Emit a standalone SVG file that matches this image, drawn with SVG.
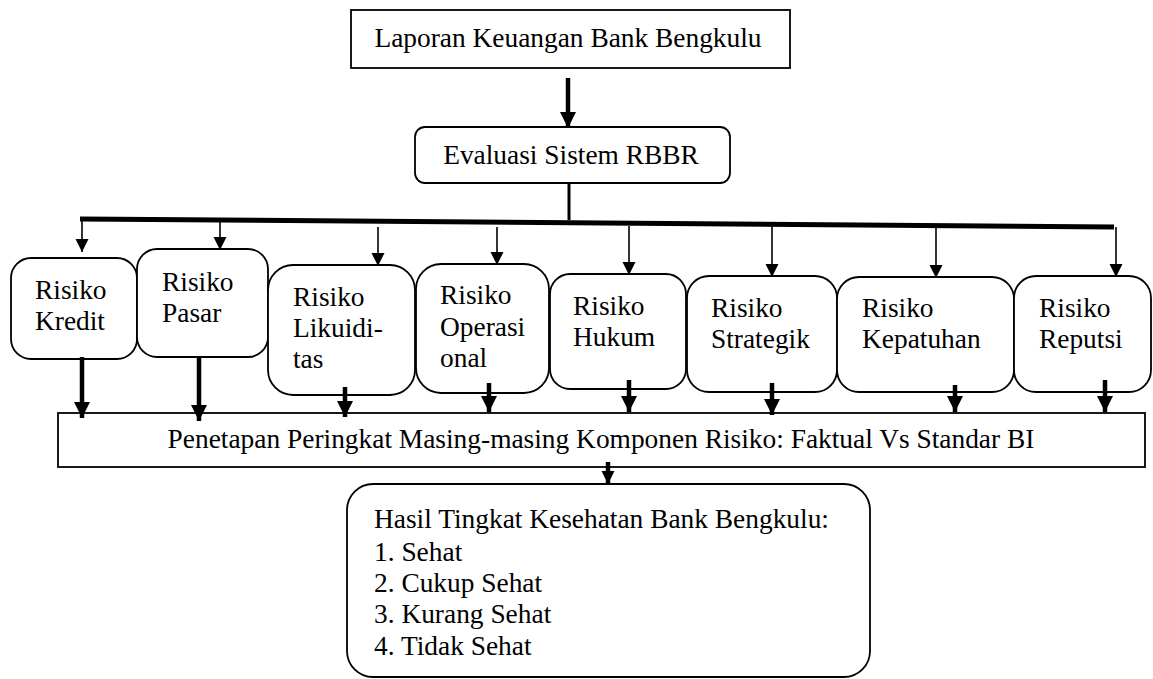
<svg xmlns="http://www.w3.org/2000/svg" width="1153" height="679" viewBox="0 0 1153 679">
<style>
.box{fill:#fff;stroke:#000;stroke-width:1.8}
.t{font-family:"Liberation Serif","Times New Roman",serif;font-size:27.4px;fill:#000}
.thin{stroke:#000;stroke-width:1.6;fill:none}
.thick{stroke:#000;stroke-width:4.5;fill:none}
</style>
<defs>
<marker id="ah" markerUnits="userSpaceOnUse" markerWidth="14" markerHeight="14" refX="13" refY="6.5" orient="auto" viewBox="0 0 14 13">
<path d="M0,0 L13,6.5 L0,13 z" fill="#000"/>
</marker>
<marker id="ahb" markerUnits="userSpaceOnUse" markerWidth="17" markerHeight="16" refX="16" refY="8" orient="auto" viewBox="0 0 17 16">
<path d="M0,0 L16,8 L0,16 z" fill="#000"/>
</marker>
</defs>

<g id="laporan">
<rect class="box" x="351" y="10" width="439" height="58"/>
<text class="t" x="568" y="47" text-anchor="middle">Laporan Keuangan Bank Bengkulu</text>
</g>

<g id="evaluasi">
<rect class="box" x="415" y="127" width="315" height="56" rx="10"/>
<text class="t" x="571" y="164" text-anchor="middle">Evaluasi Sistem RBBR</text>
</g>

<g id="kredit">
<rect class="box" x="11" y="258" width="126" height="101" rx="20"/>
<text class="t" x="35" y="299">Risiko</text>
<text class="t" x="35" y="330">Kredit</text>
</g>

<g id="pasar">
<rect class="box" x="137" y="249" width="131" height="108" rx="20"/>
<text class="t" x="162" y="291">Risiko</text>
<text class="t" x="162" y="322">Pasar</text>
</g>

<g id="likuiditas">
<rect class="box" x="268" y="265" width="147" height="130" rx="25"/>
<text class="t" x="293" y="306">Risiko</text>
<text class="t" x="293" y="337">Likuidi-</text>
<text class="t" x="293" y="368">tas</text>
</g>

<g id="operasional">
<rect class="box" x="416" y="264" width="133" height="129" rx="25"/>
<text class="t" x="440" y="304">Risiko</text>
<text class="t" x="440" y="336">Operasi</text>
<text class="t" x="440" y="367">onal</text>
</g>

<g id="hukum">
<rect class="box" x="550" y="274" width="136" height="115" rx="20"/>
<text class="t" x="573" y="315">Risiko</text>
<text class="t" x="573" y="346">Hukum</text>
</g>

<g id="strategik">
<rect class="box" x="687" y="276" width="150" height="116" rx="22"/>
<text class="t" x="711" y="317">Risiko</text>
<text class="t" x="711" y="348">Strategik</text>
</g>

<g id="kepatuhan">
<rect class="box" x="837" y="277" width="177" height="115" rx="22"/>
<text class="t" x="862" y="317">Risiko</text>
<text class="t" x="862" y="348">Kepatuhan</text>
</g>

<g id="reputsi">
<rect class="box" x="1014" y="276" width="137" height="116" rx="22"/>
<text class="t" x="1039" y="317">Risiko</text>
<text class="t" x="1039" y="348">Reputsi</text>
</g>

<g id="penetapan">
<rect class="box" x="58" y="413" width="1087" height="54"/>
<text class="t" x="601" y="448" text-anchor="middle">Penetapan Peringkat Masing-masing Komponen Risiko: Faktual Vs Standar BI</text>
</g>

<g id="hasil">
<rect class="box" x="347" y="484" width="523" height="193" rx="26"/>
<text class="t" x="374" y="528">Hasil Tingkat Kesehatan Bank Bengkulu:</text>
<text class="t" x="374" y="561">1. Sehat</text>
<text class="t" x="374" y="592">2. Cukup Sehat</text>
<text class="t" x="374" y="623">3. Kurang Sehat</text>
<text class="t" x="374" y="655">4. Tidak Sehat</text>
</g>

<g id="connectors">
<line class="thick" x1="568" y1="78" x2="568" y2="128" marker-end="url(#ahb)"/>
<line x1="569" y1="183" x2="569" y2="220" stroke="#000" stroke-width="3"/>
<line x1="80" y1="219" x2="1114" y2="227" stroke="#000" stroke-width="5"/>
<line class="thin" x1="82" y1="219" x2="82" y2="252" marker-end="url(#ah)"/>
<line class="thin" x1="220" y1="220" x2="220" y2="250" marker-end="url(#ah)"/>
<line class="thin" x1="378" y1="227" x2="378" y2="266" marker-end="url(#ah)"/>
<line class="thin" x1="497" y1="227" x2="497" y2="265" marker-end="url(#ah)"/>
<line class="thin" x1="629" y1="226" x2="629" y2="275" marker-end="url(#ah)"/>
<line class="thin" x1="772" y1="226" x2="772" y2="277" marker-end="url(#ah)"/>
<line class="thin" x1="936" y1="226" x2="936" y2="278" marker-end="url(#ah)"/>
<line class="thin" x1="1116" y1="227" x2="1116" y2="277" marker-end="url(#ah)"/>
<line class="thick" x1="82" y1="357" x2="82" y2="418" marker-end="url(#ahb)"/>
<line class="thick" x1="199" y1="356" x2="199" y2="421" marker-end="url(#ahb)"/>
<line class="thick" x1="345" y1="387" x2="345" y2="417" marker-end="url(#ahb)"/>
<line class="thick" x1="489" y1="383" x2="489" y2="412" marker-end="url(#ahb)"/>
<line class="thick" x1="629" y1="380" x2="629" y2="412" marker-end="url(#ahb)"/>
<line class="thick" x1="772" y1="383" x2="772" y2="415" marker-end="url(#ahb)"/>
<line class="thick" x1="955" y1="385" x2="955" y2="412" marker-end="url(#ahb)"/>
<line class="thick" x1="1105" y1="380" x2="1105" y2="412" marker-end="url(#ahb)"/>
<line class="thick" x1="608" y1="462" x2="608" y2="484" marker-end="url(#ah)"/>
</g>
</svg>
